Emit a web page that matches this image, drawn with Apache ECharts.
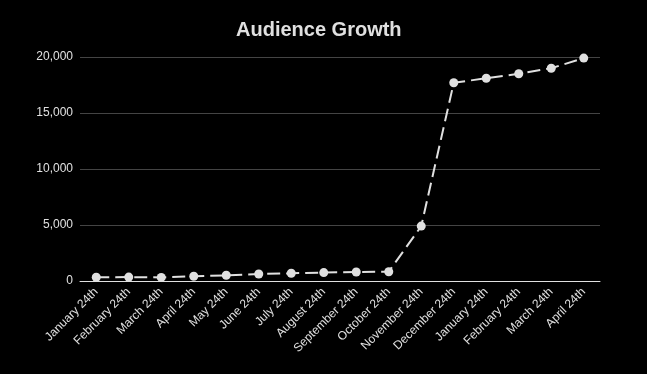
<!DOCTYPE html>
<html><head><meta charset="utf-8">
<script src="https://cdn.jsdelivr.net/npm/echarts@6/dist/echarts.min.js"></script>
<style>html,body{margin:0;padding:0;background:#000;}#c{width:647px;height:374px;}</style>
</head><body><div id="c"></div>
<script>
const categories = ["January 24th","February 24th","March 24th","April 24th","May 24th","June 24th","July 24th","August 24th","September 24th","October 24th","November 24th","December 24th","January 24th","February 24th","March 24th","April 24th"];
const audience = [330, 350, 320, 420, 510, 620, 690, 750, 800, 830, 4900, 17700, 18100, 18500, 19000, 19900];
const chart = echarts.init(document.getElementById('c'));
chart.setOption({
  backgroundColor: '#000',
  animation: false,
  title: {
    text: 'Audience Growth', left: 231, top: 15,
    textStyle: { color: '#e0e0e0', fontSize: 20, fontWeight: 'bold', fontFamily: 'Liberation Sans, Arial, sans-serif' }
  },
  grid: { left: 80, right: 47, top: 57, bottom: 93, containLabel: false },
  xAxis: {
    type: 'category', data: categories, boundaryGap: true,
    axisLine: { lineStyle: { color: '#e0e0e0', width: 1 } },
    axisTick: { show: false },
    axisLabel: { rotate: 45, interval: 0, color: '#e0e0e0', fontSize: 12, margin: 9, fontFamily: 'Liberation Sans, Arial, sans-serif' }
  },
  yAxis: {
    type: 'value', min: 0, max: 20000, interval: 5000,
    axisLine: { show: false }, axisTick: { show: false },
    splitLine: { lineStyle: { color: '#444', width: 1 } },
    axisLabel: { color: '#e0e0e0', fontSize: 12, margin: 7, fontFamily: 'Liberation Sans, Arial, sans-serif',
      formatter: v => v.toLocaleString('en-US') }
  },
  series: [{
    type: 'line', data: audience,
    symbol: 'circle', symbolSize: 9,
    itemStyle: { color: '#e0e0e0' },
    lineStyle: { color: '#e0e0e0', width: 2, type: [13, 6] }
  }]
});
</script></body></html>
